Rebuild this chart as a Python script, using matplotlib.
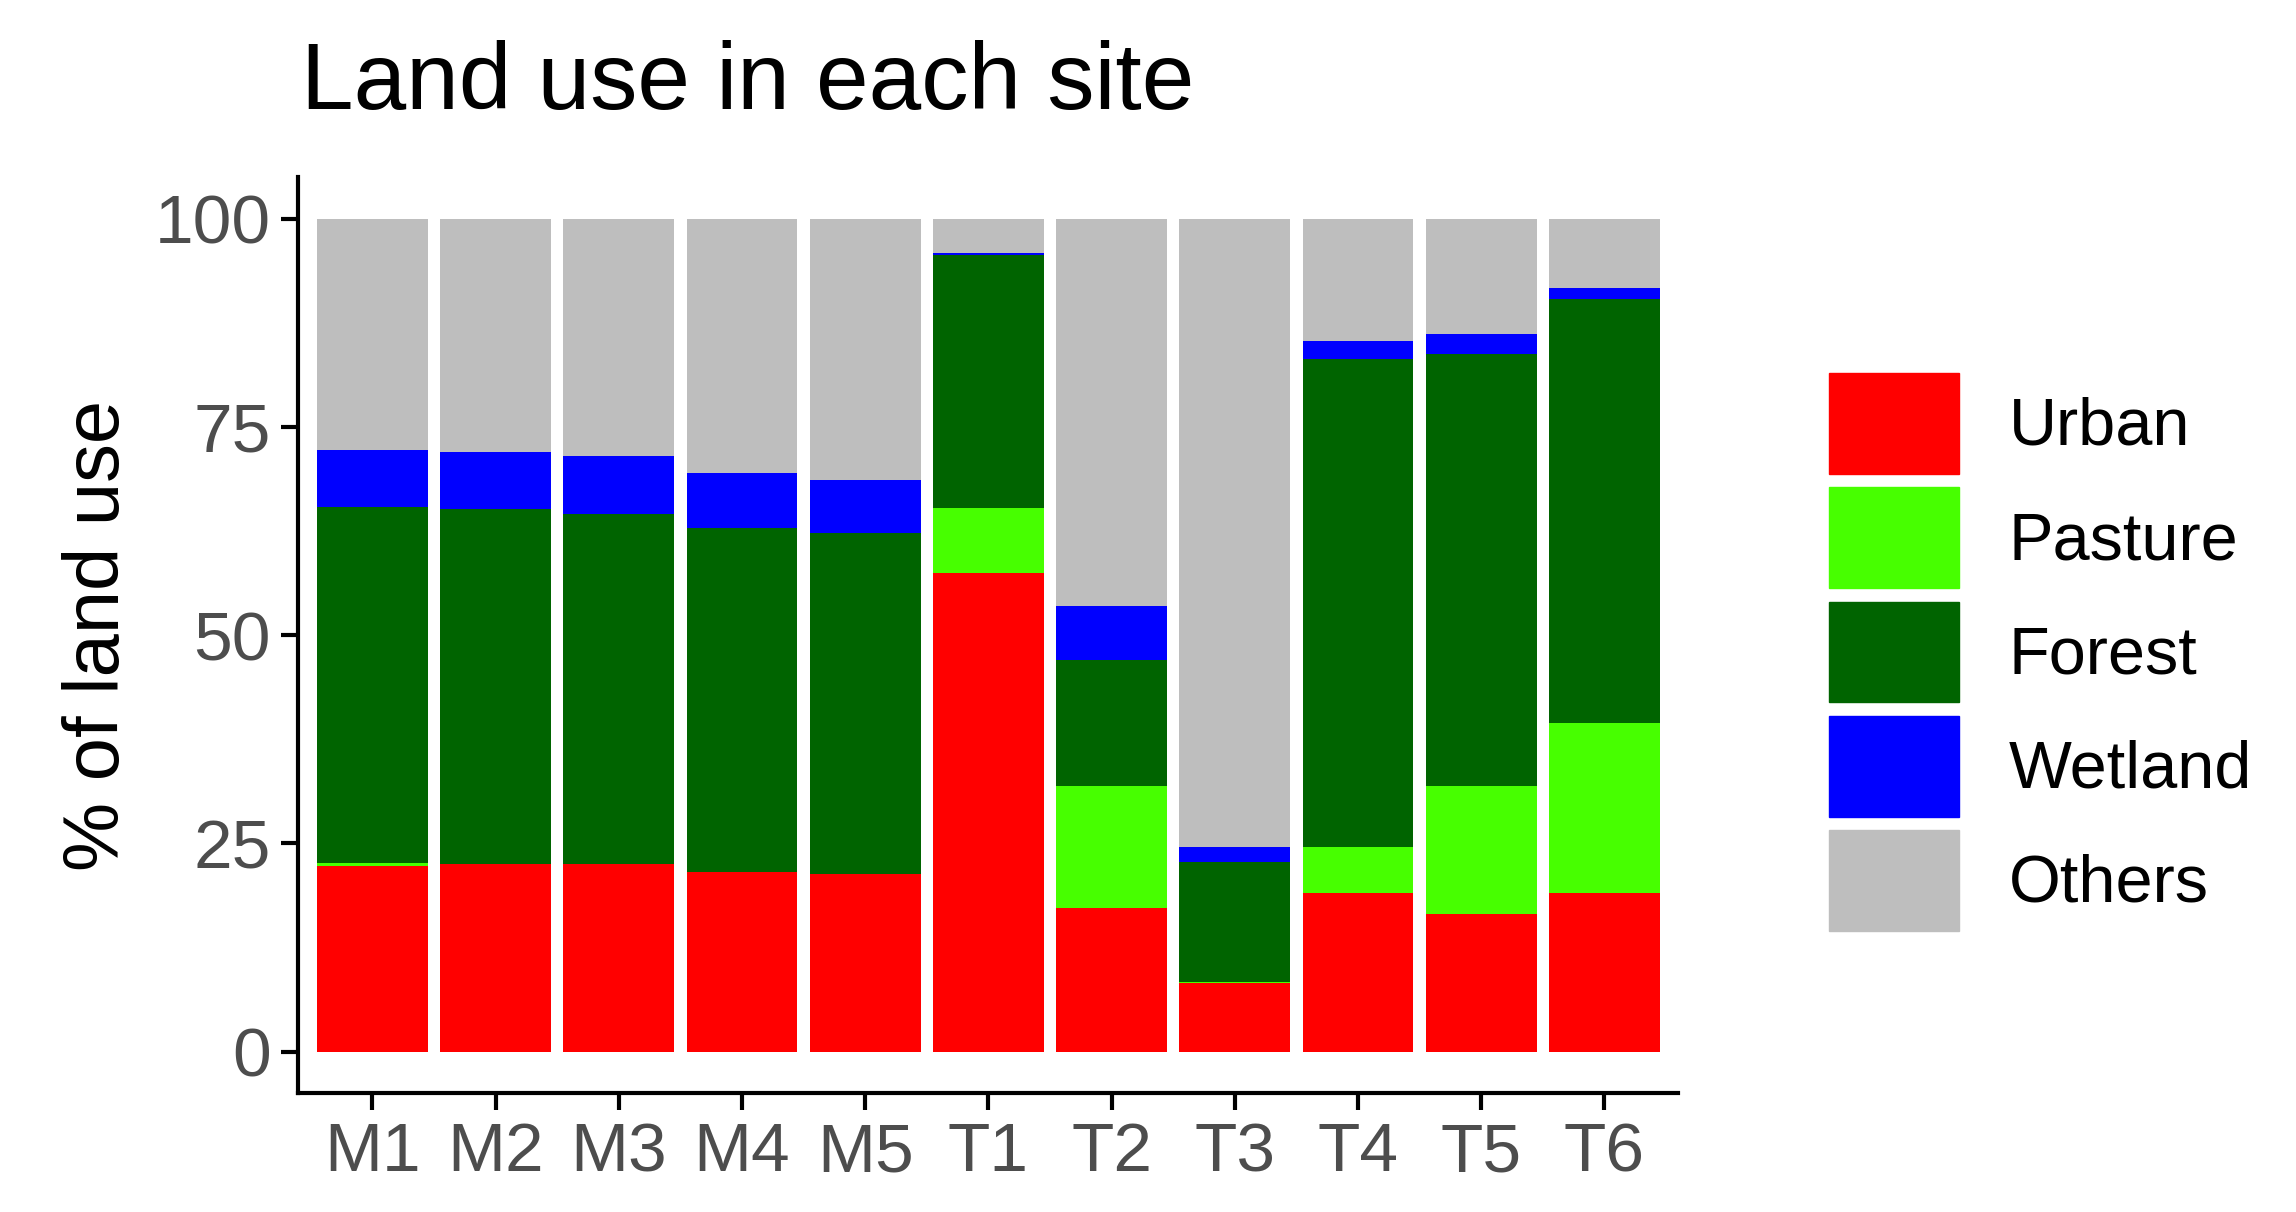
import matplotlib
matplotlib.use("Agg")
import matplotlib.pyplot as plt
from matplotlib.patches import Patch
import numpy as np

plt.rcParams['font.family'] = ['Liberation Sans', 'DejaVu Sans']

sites = ["M1","M2","M3","M4","M5","T1","T2","T3","T4","T5","T6"]
urban   = [22.3,22.5,22.5,21.6,21.3,57.4,17.2,8.2,19.0,16.5,19.0]
pasture = [0.3,0.0,0.0,0.0,0.0,7.8,14.7,0.1,5.5,15.4,20.4]
forest  = [42.8,42.6,42.0,41.3,40.9,30.4,15.1,14.4,58.7,51.8,51.0]
wetland = [6.8,6.9,7.0,6.6,6.4,0.3,6.5,1.9,2.1,2.5,1.3]
others  = [100-a-b-c-d for a,b,c,d in zip(urban,pasture,forest,wetland)]
names = ["Urban","Pasture","Forest","Wetland","Others"]
colors = ["#FF0000","#47FF00","#006400","#0000FF","#BEBEBE"]
series = [urban,pasture,forest,wetland,others]

fig = plt.figure(figsize=(22.96,12.12), dpi=100)
ax = fig.add_axes([0.130,0.098,0.601,0.756])
x = np.arange(len(sites))
bottom = np.zeros(len(sites))
for vals,c in zip(series,colors):
    ax.bar(x, vals, 0.9, bottom=bottom, color=c, linewidth=0)
    bottom += np.array(vals)
ax.set_xlim(-0.6, len(sites)-0.4)
ax.set_ylim(-5,105)
ax.set_xticks(x); ax.set_xticklabels(sites)
ax.set_yticks([0,25,50,75,100])
for s in ["top","right"]:
    ax.spines[s].set_visible(False)
for s in ["left","bottom"]:
    ax.spines[s].set_linewidth(3)
ax.tick_params(labelsize=50, colors="#4D4D4D", width=3, length=12, pad=8)
ax.tick_params(axis='both', color='black')
ax.set_ylabel("% of land use", fontsize=56, labelpad=14)
fig.text(0.131,0.91,"Land use in each site", fontsize=68)
handles = [Patch(color=c, label=n) for n,c in zip(names,colors)]
fig.legend(handles=handles, loc="center left", bbox_to_anchor=(0.782,0.462),
           frameon=False, fontsize=48, handlelength=1.95, handleheight=1.95,
           labelspacing=0.2, handletextpad=0.75, borderpad=0)
fig.savefig("out.png", dpi=100)
